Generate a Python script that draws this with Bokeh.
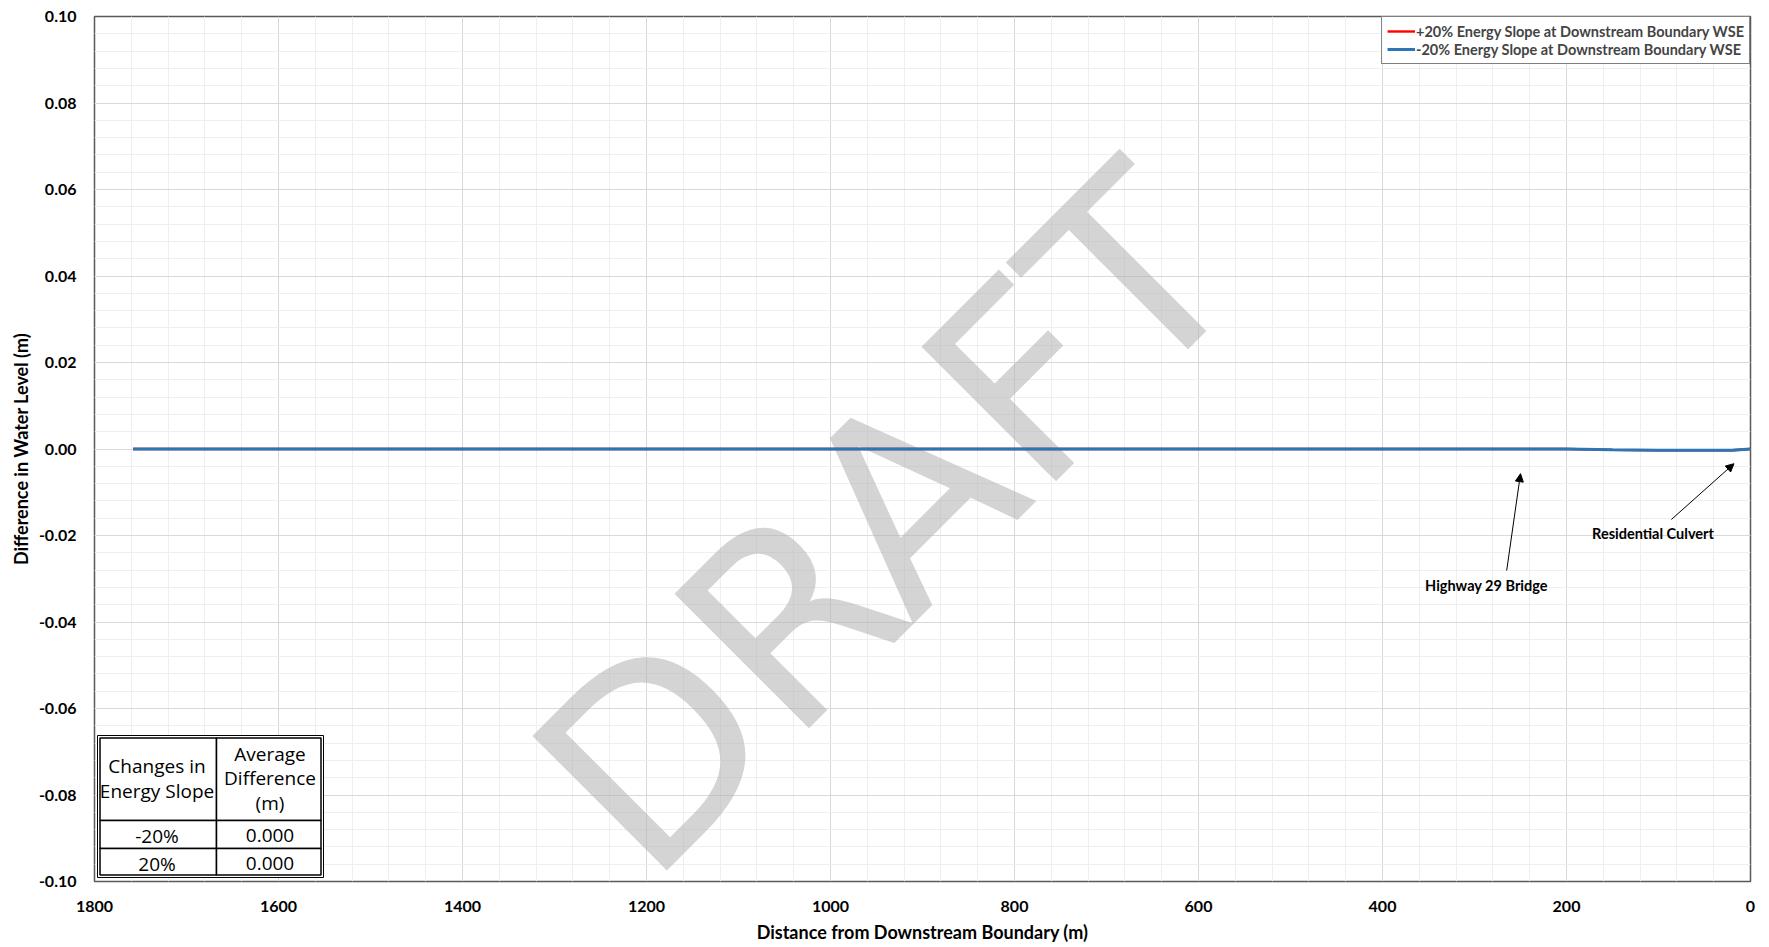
from bokeh.plotting import figure
from bokeh.models import Range1d, FixedTicker, NumeralTickFormatter, Legend, LegendItem, Arrow, NormalHead, Label
from bokeh.core.properties import value
from bokeh.embed import file_html
from bokeh.resources import INLINE

# ---------------- data ----------------
distance_m = [1758, 1700, 1650, 1600, 1550, 1500, 1450, 1400, 1350, 1300, 1250, 1200,
              1150, 1100, 1050, 1000, 950, 900, 850, 800, 750, 700, 650, 600, 550, 500,
              450, 400, 350, 300, 250, 200, 150, 100, 60, 20, 0]
diff_plus20 = [0.0, 0.0, 0.0, 0.0, 0.0, 0.0, 0.0, 0.0, 0.0, 0.0, 0.0, 0.0,
               0.0, 0.0, 0.0, 0.0, 0.0, 0.0, 0.0, 0.0, 0.0, 0.0, 0.0, 0.0, 0.0, 0.0,
               0.0, 0.0, 0.0, 0.0, 0.0, 0.0, -0.0002, -0.0003, -0.0003, -0.0003, 0.0]
diff_minus20 = [0.0, 0.0, 0.0, 0.0, 0.0, 0.0, 0.0, 0.0, 0.0, 0.0, 0.0, 0.0,
                0.0, 0.0, 0.0, 0.0, 0.0, 0.0, 0.0, 0.0, 0.0, 0.0, 0.0, 0.0, 0.0, 0.0,
                0.0, 0.0, 0.0, 0.0, 0.0, 0.0, -0.0002, -0.0003, -0.0003, -0.0003, 0.0]
series_labels = ["+20% Energy Slope at Downstream Boundary WSE",
                 "-20% Energy Slope at Downstream Boundary WSE"]
x_ticks = [1800, 1600, 1400, 1200, 1000, 800, 600, 400, 200, 0]
y_ticks = [-0.10, -0.08, -0.06, -0.04, -0.02, 0.00, 0.02, 0.04, 0.06, 0.08, 0.10]

table_header = ["Changes in\nEnergy Slope", "Average\nDifference\n(m)"]
table_change = ["-20%", "20%"]
table_avg = ["0.000", "0.000"]

annot_text = ["Highway 29 Bridge", "Residential Culvert"]
annot_text_x = [287, 106]
annot_text_y = [-0.0316, -0.0195]
annot_arrow_x0 = [265, 86]
annot_arrow_y0 = [-0.0281, -0.0163]
annot_arrow_x1 = [250, 18]
annot_arrow_y1 = [-0.0057, -0.0034]

# ---------------- layout ----------------
X0, X1 = 1800, 0
Y0, Y1 = -0.10, 0.10
FW, FH = 1656, 865
FONT = "Lato"
TFONT = "Open Sans"

p = figure(frame_width=FW, frame_height=FH, output_backend="svg", toolbar_location=None,
           x_range=Range1d(X0, X1), y_range=Range1d(Y0, Y1),
           min_border_left=94, min_border_right=11, min_border_top=16, min_border_bottom=50,
           background_fill_color="white", border_fill_color="white")
p.outline_line_color = "#595959"
p.outline_line_width = 1.5

minor_x = [v for v in range(0, 1801, 40) if v % 200 != 0]
minor_y = [round(-0.1 + i * 0.004, 4) for i in range(51)]
p.xaxis.ticker = FixedTicker(ticks=x_ticks, minor_ticks=minor_x)
p.yaxis.ticker = FixedTicker(ticks=y_ticks, minor_ticks=minor_y)
p.yaxis.formatter = NumeralTickFormatter(format="0.00")

for ax in (p.xaxis[0], p.yaxis[0]):
    ax.axis_line_color = None
    ax.major_tick_line_color = None
    ax.minor_tick_line_color = None
    ax.major_tick_out = 0
    ax.major_tick_in = 0
    ax.minor_tick_out = 0
    ax.minor_tick_in = 0
    ax.major_label_text_font = FONT
    ax.major_label_text_font_style = "bold"
    ax.major_label_text_font_size = "16px"
    ax.major_label_text_color = "black"
    ax.axis_label_text_font = FONT
    ax.axis_label_text_font_style = "bold"
    ax.axis_label_text_font_size = "18px"
    ax.axis_label_text_color = "black"
p.xaxis.axis_label = "Distance from Downstream Boundary (m)"
p.yaxis.axis_label = "Difference in Water Level (m)"
p.xaxis.major_label_standoff = 19
p.xaxis.axis_label_standoff = 6
p.yaxis.major_label_standoff = 18
p.yaxis.axis_label_standoff = 4

for g in (p.xgrid[0], p.ygrid[0]):
    g.grid_line_color = "#d9d9d9"
    g.grid_line_width = 1
    g.minor_grid_line_color = "#efefef"
    g.minor_grid_line_width = 1

# watermark
p.text(x=[938], y=[-0.017], text=["DRAFT"], angle=45, angle_units="deg",
       text_align="center", text_baseline="middle", text_font=value("DejaVu Sans"),
       text_font_size="261px", text_color="#b0b0b0", text_alpha=0.55)

r_red = p.line(distance_m, diff_plus20, line_color="#FF0000", line_width=2.4)
r_blue = p.line(distance_m, diff_minus20, line_color="#2E75B6", line_width=3)

legend = Legend(items=[LegendItem(label=series_labels[0], renderers=[r_red]),
                       LegendItem(label=series_labels[1], renderers=[r_blue])],
                location="top_right", margin=0, padding=5, spacing=0,
                border_line_color="black", border_line_width=1,
                background_fill_color="white", background_fill_alpha=1,
                label_text_font=FONT, label_text_font_style="bold",
                label_text_font_size="14.5px", label_standoff=1,
                glyph_width=28, glyph_height=18, label_height=18)
p.add_layout(legend)

# annotations
for i in range(len(annot_text)):
    p.add_layout(Arrow(end=NormalHead(size=8, fill_color="black", line_color="black"),
                       x_start=annot_arrow_x0[i], y_start=annot_arrow_y0[i],
                       x_end=annot_arrow_x1[i], y_end=annot_arrow_y1[i],
                       line_color="black", line_width=1))
    p.add_layout(Label(x=annot_text_x[i], y=annot_text_y[i], text=annot_text[i],
                       text_align="center", text_baseline="middle",
                       text_font=FONT, text_font_style="bold", text_font_size="14.5px",
                       text_color="black"))

# table (positions in pixel offsets from frame's top-left corner)
sx = FW / (X0 - X1)
sy = FH / (Y1 - Y0)
def dx(off):
    return X0 - off / sx
def dy(off):
    return Y1 - off / sy

t_left, t_mid, t_right = 3, 122, 229
t_top, t_r1, t_r2, t_bot = 719, 804, 832, 861
ins = 2.5
p.quad(left=[dx(t_left)], right=[dx(t_right)], top=[dy(t_top)], bottom=[dy(t_bot)],
       fill_color="white", line_color="black", line_width=1)
lefts, rights, tops, bots = [], [], [], []
for (a, b) in [(t_left + ins, t_mid), (t_mid, t_right - ins)]:
    for (c, d) in [(t_top + ins, t_r1), (t_r1, t_r2), (t_r2, t_bot - ins)]:
        lefts.append(dx(a)); rights.append(dx(b)); tops.append(dy(c)); bots.append(dy(d))
p.quad(left=lefts, right=rights, top=tops, bottom=bots,
       fill_color="white", line_color="black", line_width=1.5)

c1 = (t_left + t_mid) / 2
c2 = (t_mid + t_right) / 2
hdr1 = table_header[0].split("\n")
hdr2 = table_header[1].split("\n")
tx, ty, tt = [], [], []
for k, s in enumerate(hdr1):
    tx.append(dx(c1)); ty.append(dy(749 + 25 * k)); tt.append(s)
for k, s in enumerate(hdr2):
    tx.append(dx(c2)); ty.append(dy(737 + 24.5 * k)); tt.append(s)
for k in range(2):
    tx.append(dx(c1)); ty.append(dy(819 + 28 * k)); tt.append(table_change[k])
    tx.append(dx(c2)); ty.append(dy(819 + 28 * k)); tt.append(table_avg[k])
p.text(x=tx, y=ty, text=tt, text_align="center", text_baseline="middle",
       text_font=value(TFONT), text_font_size="19px", text_color="black")

open("out.html", "w").write(file_html(p, INLINE))
